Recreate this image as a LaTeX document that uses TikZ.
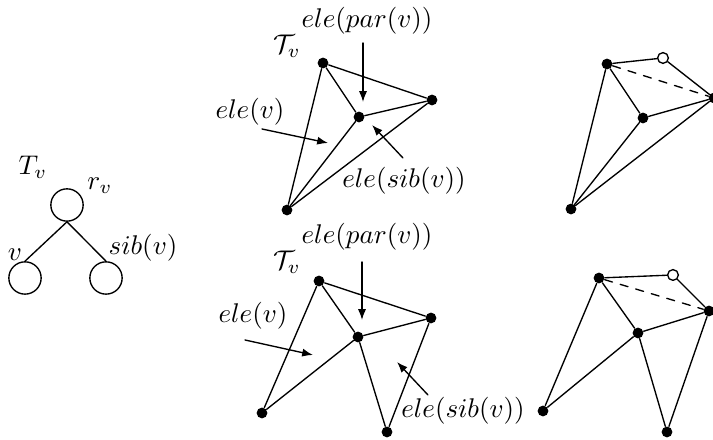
\documentclass[tikz,border=0pt]{standalone}
\usetikzlibrary{arrows.meta}

\begin{document}
\begin{tikzpicture}[
  x=0.013cm,
  y=-0.013cm,
  line cap=round,
  line join=round,
  >={Latex[length=4pt,width=3pt]},
  every node/.style={
    inner sep=0pt,
  },
  tnode/.style={
    circle,
    draw,
    line width=0.5pt,
    minimum size=0.42cm,
  },
  vtx/.style={
    circle,
    fill=black,
    minimum size=0.14cm,
  },
  opvtx/.style={
    circle,
    draw,
    fill=white,
    line width=0.5pt,
    minimum size=0.14cm,
  },
  edg/.style={
    line width=0.5pt,
  },
  hidedg/.style={
    edg,
    dashed,
  },
  arr/.style={
    ->,
    line width=0.5pt,
  },
]
\useasboundingbox (0,0) rectangle (713,440);

% --- tree T_v ---
\node[tnode] (root) at (67,205) {};
\node[tnode] (lch) at (25,278) {};
\node[tnode] (rch) at (106,278) {};
\draw[edg] (root.south) -- (lch.north);
\draw[edg] (root.south) -- (rch.north);
\node (tvlab) at (33,167) {$T_v$};
\node (rvlab) at (100,186) {$r_v$};
\node (vlab) at (15,255) {$v$};
\node (siblab) at (143,248) {$sib(v)$};

% --- top middle ---
\node[vtx] (ta) at (323,63) {};
\node[vtx] (tb) at (432,100) {};
\node[vtx] (tc) at (359,117) {};
\node[vtx] (td) at (287,210) {};
\draw[edg] (ta) -- (tb) -- (tc) -- (ta) -- (td) -- (tc);
\draw[edg] (td) -- (tb);
\node (ttlab) at (287,46) {$\mathcal{T}_v$};
\node (tpar) at (367,21) {$ele(par(v))$};
\node (tele) at (250,112) {$ele(v)$};
\node (tsib) at (404,181) {$ele(sib(v))$};
\coordinate (tpar0) at (363,43);
\coordinate (tpar1) at (363,102);
\coordinate (tele0) at (262,129);
\coordinate (tele1) at (328,143);
\coordinate (tsib0) at (403,158);
\coordinate (tsib1) at (372,125);
\draw[arr] (tpar0) -- (tpar1);
\draw[arr] (tele0) -- (tele1);
\draw[arr] (tsib0) -- (tsib1);

% --- bottom middle ---
\node[vtx] (ba) at (319,281) {};
\node[vtx] (bb) at (431,318) {};
\node[vtx] (bc) at (358,337) {};
\node[vtx] (bd) at (262,413) {};
\node[vtx] (be) at (387,432) {};
\draw[edg] (ba) -- (bb) -- (bc) -- (ba) -- (bd) -- (bc) -- (be) -- (bb);
\node (btlab) at (287,262) {$\mathcal{T}_v$};
\node (bpar) at (367,237) {$ele(par(v))$};
\node (bele) at (253,316) {$ele(v)$};
\node (bsib) at (463,411) {$ele(sib(v))$};
\coordinate (bpar0) at (362,262);
\coordinate (bpar1) at (362,320);
\coordinate (bele0) at (245,340);
\coordinate (bele1) at (313,355);
\coordinate (bsib0) at (428,395);
\coordinate (bsib1) at (397,362);
\draw[arr] (bpar0) -- (bpar1);
\draw[arr] (bele0) -- (bele1);
\draw[arr] (bsib0) -- (bsib1);

% --- top right ---
\node[vtx] (ra) at (607,64) {};
\node[opvtx] (ro) at (663,58) {};
\node[vtx] (rb) at (714,98) {};
\node[vtx] (rc) at (643,118) {};
\node[vtx] (rd) at (571,209) {};
\draw[edg] (ra) -- (ro) -- (rb) -- (rc) -- (ra) -- (rd) -- (rc);
\draw[edg] (rd) -- (rb);
\draw[hidedg] (ra) -- (rb);

% --- bottom right ---
\node[vtx] (sa) at (599,278) {};
\node[opvtx] (so) at (673,275) {};
\node[vtx] (sb) at (709,311) {};
\node[vtx] (sc) at (638,333) {};
\node[vtx] (sd) at (543,411) {};
\node[vtx] (se) at (667,432) {};
\draw[edg] (sa) -- (so) -- (sb) -- (sc) -- (sa) -- (sd) -- (sc) -- (se) -- (sb);
\draw[hidedg] (sa) -- (sb);

\end{tikzpicture}
\end{document}
